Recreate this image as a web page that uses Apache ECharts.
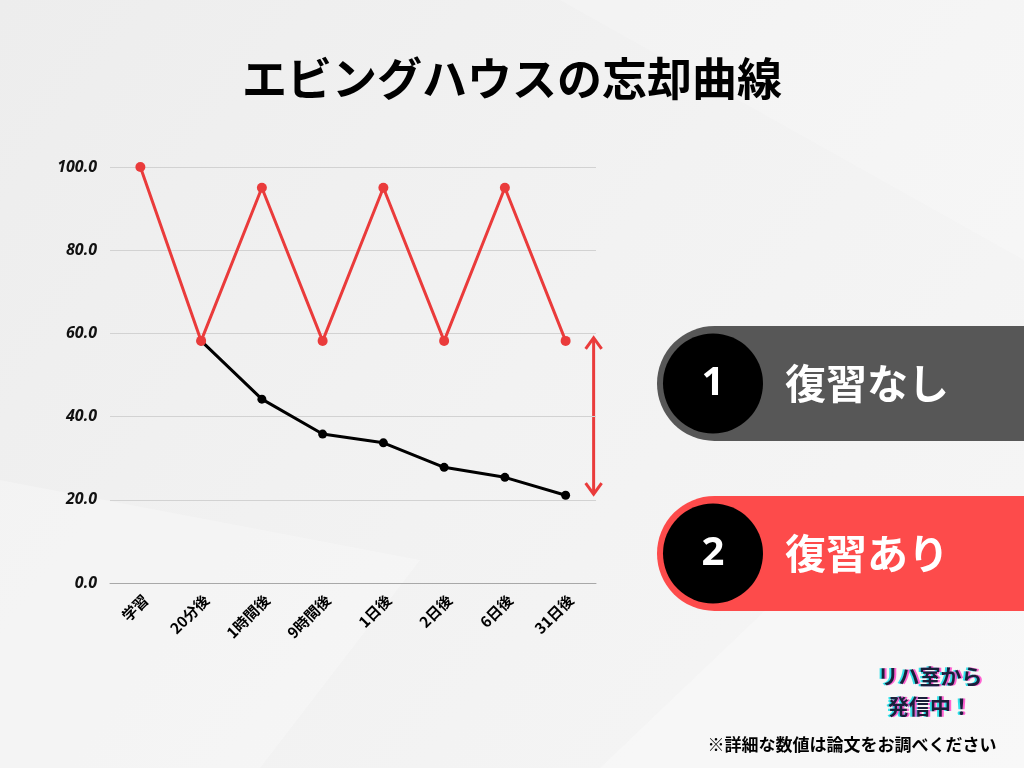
<!DOCTYPE html>
<html><head><meta charset="utf-8">
<script src="https://cdn.jsdelivr.net/npm/echarts@6/dist/echarts.min.js"></script>
<style>html,body{margin:0;padding:0;}#c{width:1024px;height:768px;}</style>
</head><body><div id="c"></div>
<script>
const categories = ['学習','20分後','1時間後','9時間後','1日後','2日後','6日後','31日後'];
const withReview = [100, 58.2, 95, 58.2, 95, 58.2, 95, 58.2];
const noReview = [null, 58.2, 44.2, 35.8, 33.7, 27.8, 25.4, 21.1];
const yTicks = [0, 20, 40, 60, 80, 100];
const titleText = 'エビングハウスの忘却曲線';
const legendItems = [
  {num: '1', label: '復習なし'},
  {num: '2', label: '復習あり'}
];
const noteText = '※詳細な数値は論文をお調べください';
const badgeLines = ['リハ室から', '発信中！'];

const RED = '#ea3b3b';
const PILL_RED = '#fd4b4b';
const PILL_GRAY = '#575757';
const FONT = '"Noto Sans CJK JP", "Noto Sans", sans-serif';

const chart = echarts.init(document.getElementById('c'));

function pill(y, color, item) {
  const h = 115, x = 657, r = h / 2;
  return {
    type: 'group',
    children: [
      {type: 'rect', shape: {x: x, y: y, width: 1024 - x + 20, height: h, r: [r, 0, 0, r]}, style: {fill: color}},
      {type: 'circle', shape: {cx: 713, cy: y + h / 2, r: 50}, style: {fill: '#000'}},
      {type: 'text', x: 713, y: y + h / 2, style: {text: item.num, fill: '#fff', font: 'bold 40px "Noto Sans", sans-serif', align: 'center', verticalAlign: 'middle'}},
      {type: 'text', x: 785, y: y + h / 2, style: {text: item.label, fill: '#fff', font: 'bold 41px ' + FONT, align: 'left', verticalAlign: 'middle'}}
    ]
  };
}

function badge(y, text) {
  const base = {text: text, font: 'bold 21px ' + FONT, align: 'center', verticalAlign: 'middle'};
  return {type: 'group', children: [
    {type: 'text', x: 928, y: y, style: Object.assign({}, base, {fill: 'rgba(0,220,230,0.8)'})},
    {type: 'text', x: 932, y: y, style: Object.assign({}, base, {fill: 'rgba(255,60,200,0.8)'})},
    {type: 'text', x: 930, y: y, style: Object.assign({}, base, {fill: '#1a1f3a'})}
  ]};
}

const option = {
  backgroundColor: {
    type: 'linear', x: 0, y: 0, x2: 1, y2: 1,
    colorStops: [{offset: 0, color: '#ededed'}, {offset: 0.5, color: '#f2f2f2'}, {offset: 1, color: '#f6f6f6'}]
  },
  animation: false,
  title: {
    text: titleText, left: 'center', top: 51,
    textStyle: {fontFamily: FONT, fontWeight: 'bold', fontSize: 45, color: '#000'}
  },
  grid: {left: 110, top: 167, width: 486, height: 416, containLabel: false},
  xAxis: {
    type: 'category', data: categories, boundaryGap: true,
    axisLine: {lineStyle: {color: '#a8a8a8', width: 1}},
    axisTick: {show: false},
    axisLabel: {rotate: 45, margin: 9, verticalAlign: 'top', fontFamily: FONT, fontWeight: 'bold', fontSize: 15, color: '#000', interval: 0}
  },
  yAxis: {
    type: 'value', min: 0, max: 100, interval: 20,
    axisLine: {show: false}, axisTick: {show: false},
    splitLine: {lineStyle: {color: '#d2d2d2', width: 1}},
    axisLabel: {
      margin: 13, fontFamily: '"Open Sans", sans-serif', fontWeight: 'bold', fontStyle: 'italic', fontSize: 16, color: '#111',
      formatter: v => yTicks.includes(v) ? v.toFixed(1) : ''
    }
  },
  series: [
    {
      name: '復習なし', type: 'line', data: noReview, z: 2,
      lineStyle: {color: '#000', width: 3}, itemStyle: {color: '#000'},
      symbol: 'circle', symbolSize: 9, connectNulls: false
    },
    {
      name: '復習あり', type: 'line', data: withReview, z: 3,
      lineStyle: {color: RED, width: 3}, itemStyle: {color: RED},
      symbol: 'circle', symbolSize: 10
    }
  ],
  graphic: [
    {type: 'polygon', shape: {points: [[0, 480], [0, 768], [260, 768], [420, 560]]}, style: {fill: 'rgba(255,255,255,0.25)'}, z: -10},
    {type: 'polygon', shape: {points: [[600, 768], [1024, 768], [1024, 600], [860, 520]]}, style: {fill: 'rgba(255,255,255,0.25)'}, z: -10},
    {type: 'polygon', shape: {points: [[560, 0], [1024, 0], [1024, 260]]}, style: {fill: 'rgba(255,255,255,0.2)'}, z: -10},
    pill(326, PILL_GRAY, legendItems[0]),
    pill(496, PILL_RED, legendItems[1]),
    badge(676, badgeLines[0]),
    badge(706, badgeLines[1]),
    {type: 'text', x: 852, y: 745, style: {text: noteText, fill: '#000', font: 'bold 17px ' + FONT, align: 'center', verticalAlign: 'middle'}}
  ]
};
chart.setOption(option);

// Double-headed arrow showing the gap between the two curves at the last point
const lastIdx = categories.length - 1;
const yTop = chart.convertToPixel({yAxisIndex: 0}, withReview[lastIdx]) - 3;
const yBot = chart.convertToPixel({yAxisIndex: 0}, noReview[lastIdx]) - 1;
const xArrow = chart.convertToPixel({xAxisIndex: 0}, categories[lastIdx]) + 28;
chart.setOption({
  graphic: option.graphic.concat([
    {type: 'group', z: 10, children: [
      {type: 'line', shape: {x1: xArrow, y1: yTop, x2: xArrow, y2: yBot}, style: {stroke: RED, lineWidth: 3}},
      {type: 'polyline', shape: {points: [[xArrow - 8, yTop + 11], [xArrow, yTop], [xArrow + 8, yTop + 11]]}, style: {stroke: RED, lineWidth: 3, fill: null}},
      {type: 'polyline', shape: {points: [[xArrow - 8, yBot - 11], [xArrow, yBot], [xArrow + 8, yBot - 11]]}, style: {stroke: RED, lineWidth: 3, fill: null}}
    ]}
  ])
});
</script>
</body></html>
